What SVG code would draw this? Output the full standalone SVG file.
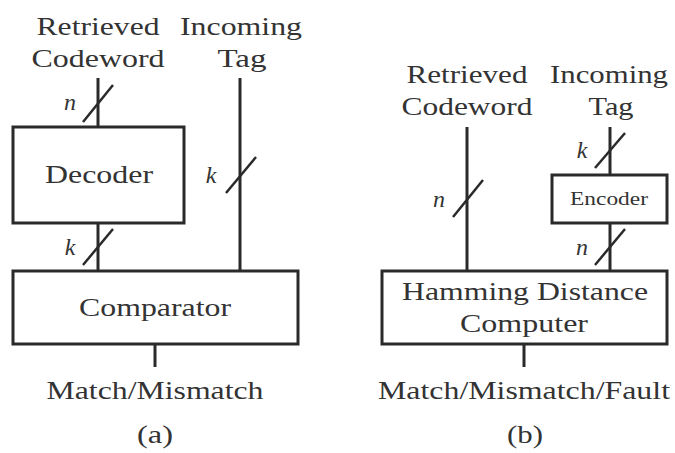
<svg xmlns="http://www.w3.org/2000/svg" width="675" height="453" viewBox="0 0 675 453">
<style>
.t{font-family:"Liberation Serif","Times New Roman",serif;font-size:25px;fill:#333;text-anchor:middle}
.s{font-size:18px}
.v{font-family:"Liberation Serif","Times New Roman",serif;font-size:24px;font-style:italic;fill:#333;text-anchor:middle}
.box{fill:#fff;stroke:#2a2a2a;stroke-width:3}
.w{stroke:#2a2a2a;stroke-width:3;fill:none}
.sl{stroke:#2a2a2a;stroke-width:2.5;fill:none}
</style>
<rect width="675" height="453" fill="#fff"/>
<g id="connectors">
<line class="w" x1="98" y1="78" x2="98" y2="127"/>
<line class="sl" x1="83" y1="122" x2="113" y2="85"/>
<line class="w" x1="98" y1="223" x2="98" y2="271"/>
<line class="sl" x1="83" y1="265" x2="113" y2="229"/>
<line class="w" x1="240" y1="78" x2="240" y2="271"/>
<line class="sl" x1="226" y1="193" x2="256" y2="157"/>
<line class="w" x1="155" y1="344" x2="155" y2="367"/>
<line class="w" x1="467" y1="127" x2="467" y2="271"/>
<line class="sl" x1="453" y1="217" x2="483" y2="180"/>
<line class="w" x1="610" y1="127" x2="610" y2="175"/>
<line class="sl" x1="595" y1="168" x2="625" y2="133"/>
<line class="w" x1="610" y1="223" x2="610" y2="271"/>
<line class="sl" x1="595" y1="265" x2="625" y2="229"/>
<line class="w" x1="524" y1="344" x2="524" y2="367"/>
</g>
<g id="labels-a">
<text class="t" x="98" y="35" textLength="123" lengthAdjust="spacingAndGlyphs">Retrieved</text>
<text class="t" x="98" y="67" textLength="133" lengthAdjust="spacingAndGlyphs">Codeword</text>
<text class="t" x="241" y="35" textLength="122" lengthAdjust="spacingAndGlyphs">Incoming</text>
<text class="t" x="242" y="67" textLength="49" lengthAdjust="spacingAndGlyphs">Tag</text>
<text class="v" x="70" y="110">n</text>
<text class="v" x="70" y="255">k</text>
<text class="v" x="211" y="183">k</text>
<text class="t" x="155" y="399" textLength="217" lengthAdjust="spacingAndGlyphs">Match/Mismatch</text>
<text class="t" x="155" y="443" textLength="36" lengthAdjust="spacingAndGlyphs">(a)</text>
</g>
<g id="decoder">
<rect class="box" x="13" y="127" width="171" height="96"/>
<text class="t" x="99" y="183" textLength="108" lengthAdjust="spacingAndGlyphs">Decoder</text>
</g>
<g id="comparator">
<rect class="box" x="13" y="271" width="285" height="73"/>
<text class="t" x="155" y="316" textLength="152" lengthAdjust="spacingAndGlyphs">Comparator</text>
</g>
<g id="labels-b">
<text class="t" x="467" y="83" textLength="121" lengthAdjust="spacingAndGlyphs">Retrieved</text>
<text class="t" x="467" y="115" textLength="131" lengthAdjust="spacingAndGlyphs">Codeword</text>
<text class="t" x="609" y="83" textLength="118" lengthAdjust="spacingAndGlyphs">Incoming</text>
<text class="t" x="611" y="115" textLength="45" lengthAdjust="spacingAndGlyphs">Tag</text>
<text class="v" x="439" y="207">n</text>
<text class="v" x="582" y="158">k</text>
<text class="v" x="582" y="255">n</text>
<text class="t" x="524" y="399" textLength="292" lengthAdjust="spacingAndGlyphs">Match/Mismatch/Fault</text>
<text class="t" x="525" y="443" textLength="36" lengthAdjust="spacingAndGlyphs">(b)</text>
</g>
<g id="encoder">
<rect class="box" x="552" y="175" width="115" height="48"/>
<text class="t s" x="609" y="205" textLength="78" lengthAdjust="spacingAndGlyphs">Encoder</text>
</g>
<g id="hamming">
<rect class="box" x="382" y="271" width="285" height="73"/>
<text class="t" x="525" y="300" textLength="246" lengthAdjust="spacingAndGlyphs">Hamming Distance</text>
<text class="t" x="524" y="332" textLength="128" lengthAdjust="spacingAndGlyphs">Computer</text>
</g>
</svg>
